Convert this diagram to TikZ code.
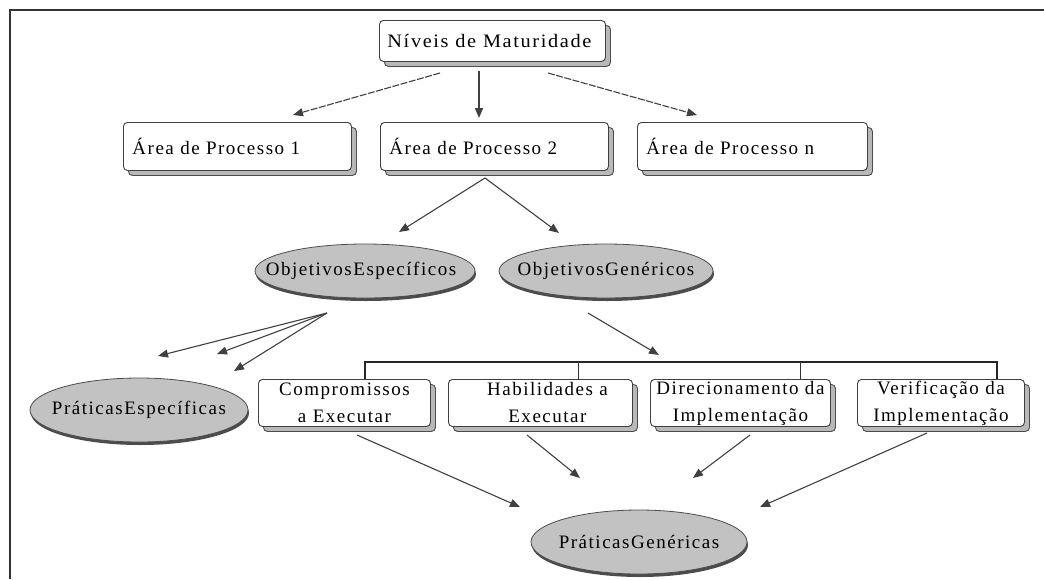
\documentclass[tikz,border=0pt]{standalone}
\usepackage{fontspec}
\setmainfont{Liberation Serif}[LetterSpace=8]
\usetikzlibrary{arrows.meta,shapes.geometric,shadows}

\begin{document}
\begin{tikzpicture}[x=1pt,y=-1pt,
  every node/.style={font=\fontsize{19}{27}\selectfont},
  procbox/.style={draw=black!75, fill=white, rounded corners=4pt, line width=0.9pt,
    inner sep=0pt, anchor=north west,
    drop shadow={shadow xshift=5pt, shadow yshift=-5pt, fill=black!28, draw=black!70, opacity=1}},
  topbox/.style={procbox, align=left},
  lowbox/.style={procbox, align=center},
  goal/.style={ellipse, draw=black!70, fill=black!24, line width=0.8pt, inner sep=0pt,
    drop shadow={shadow xshift=1pt, shadow yshift=-3pt, fill=black!70, opacity=1}},
  link/.style={draw=black!75, line width=1.1pt, -{Triangle[length=10pt,width=8pt]}},
  dlink/.style={link, dash pattern=on 7pt off 1.5pt},
  bar/.style={draw=black!85, line width=2pt},
  tick/.style={draw=black!80, line width=0.9pt}
]
\useasboundingbox (0,0) rectangle (1044,579);

% page frame
\draw[black!80, line width=2pt] (10,579) -- (10,10) -- (1044,10);

% upper boxes
\node[topbox, minimum width=226, minimum height=41, text width=210] (niv) at (379,20)
  {\raisebox{-5pt}{\scalebox{1.07}[1]{Níveis de Maturidade}}};
\node[topbox, minimum width=228, minimum height=48, text width=210] (a1) at (123,122)
  {\raisebox{-3pt}{Área de Processo 1}};
\node[topbox, minimum width=228, minimum height=48, text width=210] (a2) at (380,122)
  {\raisebox{-3pt}{Área de Processo 2}};
\node[topbox, minimum width=230, minimum height=48, text width=212] (an) at (637,122)
  {\raisebox{-3pt}{Área de Processo n}};

% objectives
\node[goal, minimum width=220, minimum height=54] (oesp) at (365,271)
  {\makebox[0pt]{\hspace*{-8pt}ObjetivosEspecíficos}};
\node[goal, minimum width=214, minimum height=54] (ogen) at (606,271)
  {\makebox[0pt]{ObjetivosGenéricos}};

% practices
\node[goal, minimum width=218, minimum height=64] (pesp) at (139,410)
  {\makebox[0pt]{PráticasEspecíficas}};
\node[goal, minimum width=216, minimum height=64] (pgen) at (639,542)
  {\makebox[0pt]{PráticasGenéricas}};

% generic practice categories
\node[lowbox, minimum width=172, minimum height=47, text width=172] (comp) at (258,379)
  {Compromissos\\a Executar};
\node[lowbox, minimum width=184, minimum height=47, text width=184] (hab) at (448,379)
  {\hspace*{14pt}Habilidades a\\\hspace*{14pt}Executar};
\node[lowbox, minimum width=180, minimum height=47, text width=180] (dir) at (650,379)
  {Direcionamento da\\Implementação};
\node[lowbox, minimum width=167, minimum height=47, text width=167] (ver) at (857,379)
  {Verificação da\\Implementação};

% connector end points
\coordinate (n1) at (440,73);  \coordinate (t1) at (293,115);
\coordinate (n2) at (479,71);  \coordinate (t2) at (479,118);
\coordinate (n3) at (548,73);  \coordinate (t3) at (697,115);
\coordinate (s2) at (485,178);
\coordinate (te) at (399,232); \coordinate (tg) at (559,233);
\coordinate (se) at (327,313);
\coordinate (p1) at (158,356); \coordinate (p2) at (217,354); \coordinate (p3) at (234,371);
\coordinate (sg) at (588,313); \coordinate (tb) at (659,355);
\coordinate (c1) at (357,435); \coordinate (c2) at (527,435);
\coordinate (c3) at (750,435); \coordinate (c4) at (927,433);
\coordinate (g1) at (520,507); \coordinate (g2) at (580,478);
\coordinate (g3) at (693,478); \coordinate (g4) at (760,507);

% bracket over the categories
\coordinate (b1) at (365,362); \coordinate (b2) at (578,362);
\coordinate (b3) at (800,362); \coordinate (b4) at (997,362);
\draw[bar] (b1 |- comp.north) -- (b1) -- (b4) -- (b4 |- ver.north);
\draw[tick] (b2) -- (b2 |- hab.north);
\draw[tick] (b3) -- (b3 |- dir.north);

% connectors
\draw[dlink] (n1) -- (t1);
\draw[link, line width=1.6pt] (n2) -- (t2);
\draw[dlink] (n3) -- (t3);
\draw[link] (s2) -- (te);
\draw[link] (s2) -- (tg);
\draw[link] (se) -- (p1);
\draw[link] (se) -- (p2);
\draw[link] (se) -- (p3);
\draw[link] (sg) -- (tb);
\draw[link] (c1) -- (g1);
\draw[link] (c2) -- (g2);
\draw[link] (c3) -- (g3);
\draw[link] (c4) -- (g4);
\end{tikzpicture}
\end{document}
